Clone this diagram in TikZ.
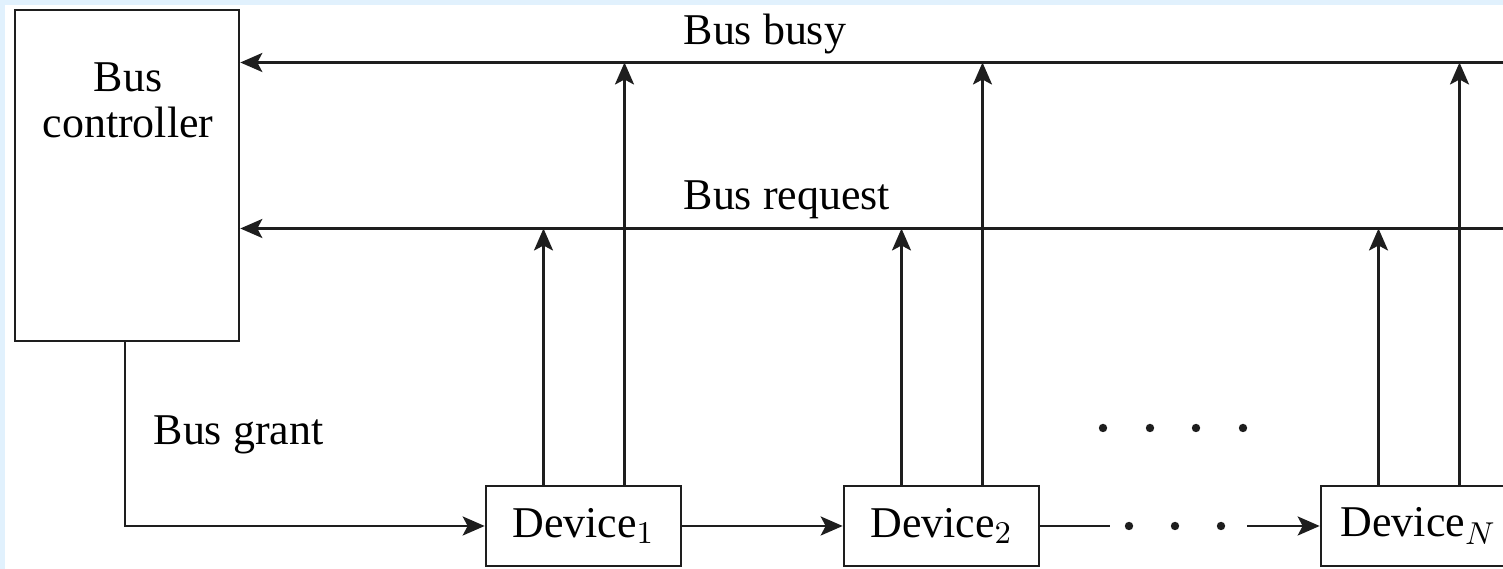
\documentclass[tikz,border=0pt]{standalone}
\usepackage{fontspec}
\setmainfont{Liberation Serif}
\usetikzlibrary{arrows.meta}

\definecolor{framebg}{RGB}{225,241,253}
\definecolor{ink}{RGB}{30,30,30}
\newcommand{\diagfont}{\fontsize{12.5}{13}\selectfont}

\tikzset{
    unit/.style={draw=ink, line width=0.75pt, fill=white, minimum width=1.95cm, minimum height=0.8cm, inner sep=0pt, font=\diagfont},
    sig/.style={draw=ink, line width=0.75pt, -{Stealth[length=2.2mm, width=1.9mm, inset=0.5mm]}},
    lbl/.style={font=\diagfont, inner sep=0pt, anchor=base west}
}

\begin{document}
\begin{tikzpicture}
    \useasboundingbox (0,0) rectangle (15.03,5.69);
    \clip (0,0) rectangle (15.03,5.69);
    \fill[framebg] (0,0) rectangle (15.03,5.69);
    \fill[white] (0.05,0) rectangle (15.03,5.64);

    % Bus controller
    \node[draw=ink, line width=0.75pt, minimum width=2.24cm, minimum height=3.31cm] (ctrl) at (1.27,3.935) {};
    \node[align=center, font=\diagfont, inner sep=0pt] (ctrltxt) at (1.28,4.685) {Bus\\controller};

    % Devices
    \node[unit] (dev1) at (5.835,0.43) {Device$_1$};
    \node[unit] (dev2) at (9.415,0.43) {Device$_2$};
    \node[unit] (devN) at (14.185,0.43) {Device$_N$};

    % Bus busy and bus request lines
    \coordinate (busyend) at (15.1,5.065);
    \coordinate (reqend) at (15.1,3.405);
    \draw[sig] (busyend) -- (ctrl.east |- busyend);
    \draw[sig] (reqend) -- (ctrl.east |- reqend);
    \node[lbl] (busylbl) at (6.83,5.24) {Bus busy};
    \node[lbl] (reqlbl) at (6.83,3.59) {Bus request};

    % Request and busy arrows of each device
    \foreach \d in {dev1,dev2,devN} {
        \draw[sig] ([xshift=-0.4cm]\d.north) -- ([xshift=-0.4cm]\d.north |- reqend);
        \draw[sig] ([xshift=0.41cm]\d.north) -- ([xshift=0.41cm]\d.north |- busyend);
    }

    % Bus grant chain
    \coordinate (grant) at (1.25,0);
    \draw[sig] (ctrl.south -| grant) |- (dev1.west);
    \node[lbl] (grantlbl) at (1.53,1.24) {Bus grant};
    \draw[sig] (dev1) -- (dev2);
    \coordinate (gap1) at (11.10,0.43);
    \coordinate (gap2) at (12.47,0.43);
    \draw[draw=ink, line width=0.75pt] (dev2.east) -- (gap1);
    \draw[sig] (gap2) -- (devN.west);
    \foreach \x in {11.29,11.75,12.21} \fill[ink] (\x,0.43) circle (0.042);
    \foreach \x in {11.03,11.50,11.96,12.43} \fill[ink] (\x,1.41) circle (0.042);
\end{tikzpicture}
\end{document}
